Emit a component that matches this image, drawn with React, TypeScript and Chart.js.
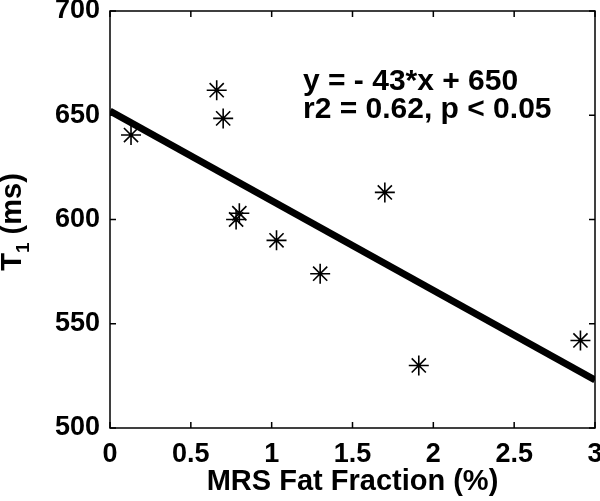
import React, { useEffect, useRef } from "react";
import { Chart, registerables } from "chart.js";

Chart.register(...registerables);

const fatFraction = [0.13, 0.66, 0.70, 0.80, 0.78, 1.03, 1.70, 1.30, 1.91, 2.91];
const t1Values = [640.5, 662, 648.5, 603, 600, 590, 613, 574, 530, 542];
const fitX = [0, 3];
const fitY = [652, 523];
const xTickValues = [0, 0.5, 1, 1.5, 2, 2.5, 3];
const xTickLabels = ["0", "0.5", "1", "1.5", "2", "2.5", "3"];
const yTickValues = [500, 550, 600, 650, 700];
const yTickLabels = ["500", "550", "600", "650", "700"];
const annotationLines = ["y = - 43*x + 650", "r2 = 0.62, p < 0.05"];

const FONT = "'Liberation Sans', Arial, sans-serif";

const framePlugin = {
  id: "frame",
  afterDatasetsDraw(chart: any) {
    const { ctx, chartArea } = chart;
    const { left, right, top, bottom } = chartArea;
    const xs = chart.scales.x;
    const ys = chart.scales.y;
    ctx.save();
    ctx.strokeStyle = "#000";
    ctx.lineWidth = 1.5;
    ctx.strokeRect(left, top, right - left, bottom - top);
    const tl = 6;
    ctx.beginPath();
    xTickValues.forEach((v) => {
      const px = xs.getPixelForValue(v);
      ctx.moveTo(px, bottom);
      ctx.lineTo(px, bottom - tl);
      ctx.moveTo(px, top);
      ctx.lineTo(px, top + tl);
    });
    yTickValues.forEach((v) => {
      const py = ys.getPixelForValue(v);
      ctx.moveTo(left, py);
      ctx.lineTo(left + tl, py);
      ctx.moveTo(right, py);
      ctx.lineTo(right - tl, py);
    });
    ctx.stroke();

    ctx.fillStyle = "#000";
    ctx.font = `bold 30px ${FONT}`;
    ctx.textAlign = "left";
    ctx.textBaseline = "alphabetic";
    ctx.fillText(annotationLines[0], 303, 90);
    ctx.fillText(annotationLines[1], 303, 118);

    ctx.translate(21, 222);
    ctx.rotate(-Math.PI / 2);
    const big = `bold 29px ${FONT}`;
    const small = `bold 19px ${FONT}`;
    ctx.font = big;
    const wT = ctx.measureText("T").width;
    const wRest = ctx.measureText(" (ms)").width;
    ctx.font = small;
    const w1 = ctx.measureText("1").width;
    const total = wT + w1 + wRest;
    let cx = -total / 2;
    ctx.font = big;
    ctx.fillText("T", cx, 0);
    cx += wT;
    ctx.font = small;
    ctx.fillText("1", cx, 8);
    cx += w1;
    ctx.font = big;
    ctx.fillText(" (ms)", cx, 0);
    ctx.restore();
  },
};

export default function App() {
  const ref = useRef<HTMLCanvasElement>(null);
  useEffect(() => {
    document.body.style.margin = "0";
    const canvas = ref.current!;
    const chart = new Chart(canvas, {
      type: "scatter",
      data: {
        datasets: [
          {
            type: "line",
            data: fitX.map((x, i) => ({ x, y: fitY[i] })),
            borderColor: "#000",
            borderWidth: 7,
            pointRadius: 0,
            fill: false,
            order: 2,
          } as any,
          {
            data: fatFraction.map((x, i) => ({ x, y: t1Values[i] })),
            pointStyle: "star",
            pointRadius: 10,
            borderColor: "#000",
            backgroundColor: "#000",
            borderWidth: 1.6,
            order: 1,
          } as any,
        ],
      },
      options: {
        animation: false,
        responsive: false,
        maintainAspectRatio: false,
        layout: { autoPadding: false, padding: { top: 11, right: 5, left: 0, bottom: 0 } },
        plugins: {
          legend: { display: false },
          tooltip: { enabled: false },
        },
        scales: {
          x: {
            type: "linear",
            min: 0,
            max: 3,
            grid: { display: false, drawTicks: false },
            border: { display: false },
            afterBuildTicks: (s: any) => {
              s.ticks = xTickValues.map((v) => ({ value: v }));
            },
            afterFit: (s: any) => {
              s.height = 73;
              s.paddingLeft = 0;
              s.paddingRight = 0;
            },
            ticks: {
              color: "#000",
              padding: 10,
              font: { family: FONT, size: 27, weight: "bold" },
              maxRotation: 0,
              callback: (_v: any, i: number) => xTickLabels[i],
            },
            title: {
              display: true,
              text: "MRS Fat Fraction (%)",
              color: "#000",
              font: { family: FONT, size: 29, weight: "bold" },
              padding: { top: 0, bottom: 2 },
            },
          },
          y: {
            type: "linear",
            min: 500,
            max: 700,
            grid: { display: false, drawTicks: false },
            border: { display: false },
            afterBuildTicks: (s: any) => {
              s.ticks = yTickValues.map((v) => ({ value: v }));
            },
            afterFit: (s: any) => {
              s.width = 110;
              s.paddingTop = 0;
              s.paddingBottom = 0;
            },
            ticks: {
              color: "#000",
              padding: 10,
              font: { family: FONT, size: 27, weight: "bold" },
              callback: (_v: any, i: number) => yTickLabels[i],
            },
          },
        },
      },
      plugins: [framePlugin],
    });
    return () => chart.destroy();
  }, []);
  return (
    <div style={{ position: "absolute", left: 0, top: 0, width: 600, height: 501, background: "#fff" }}>
      <canvas ref={ref} width={600} height={501} style={{ width: 600, height: 501, display: "block" }} />
    </div>
  );
}
